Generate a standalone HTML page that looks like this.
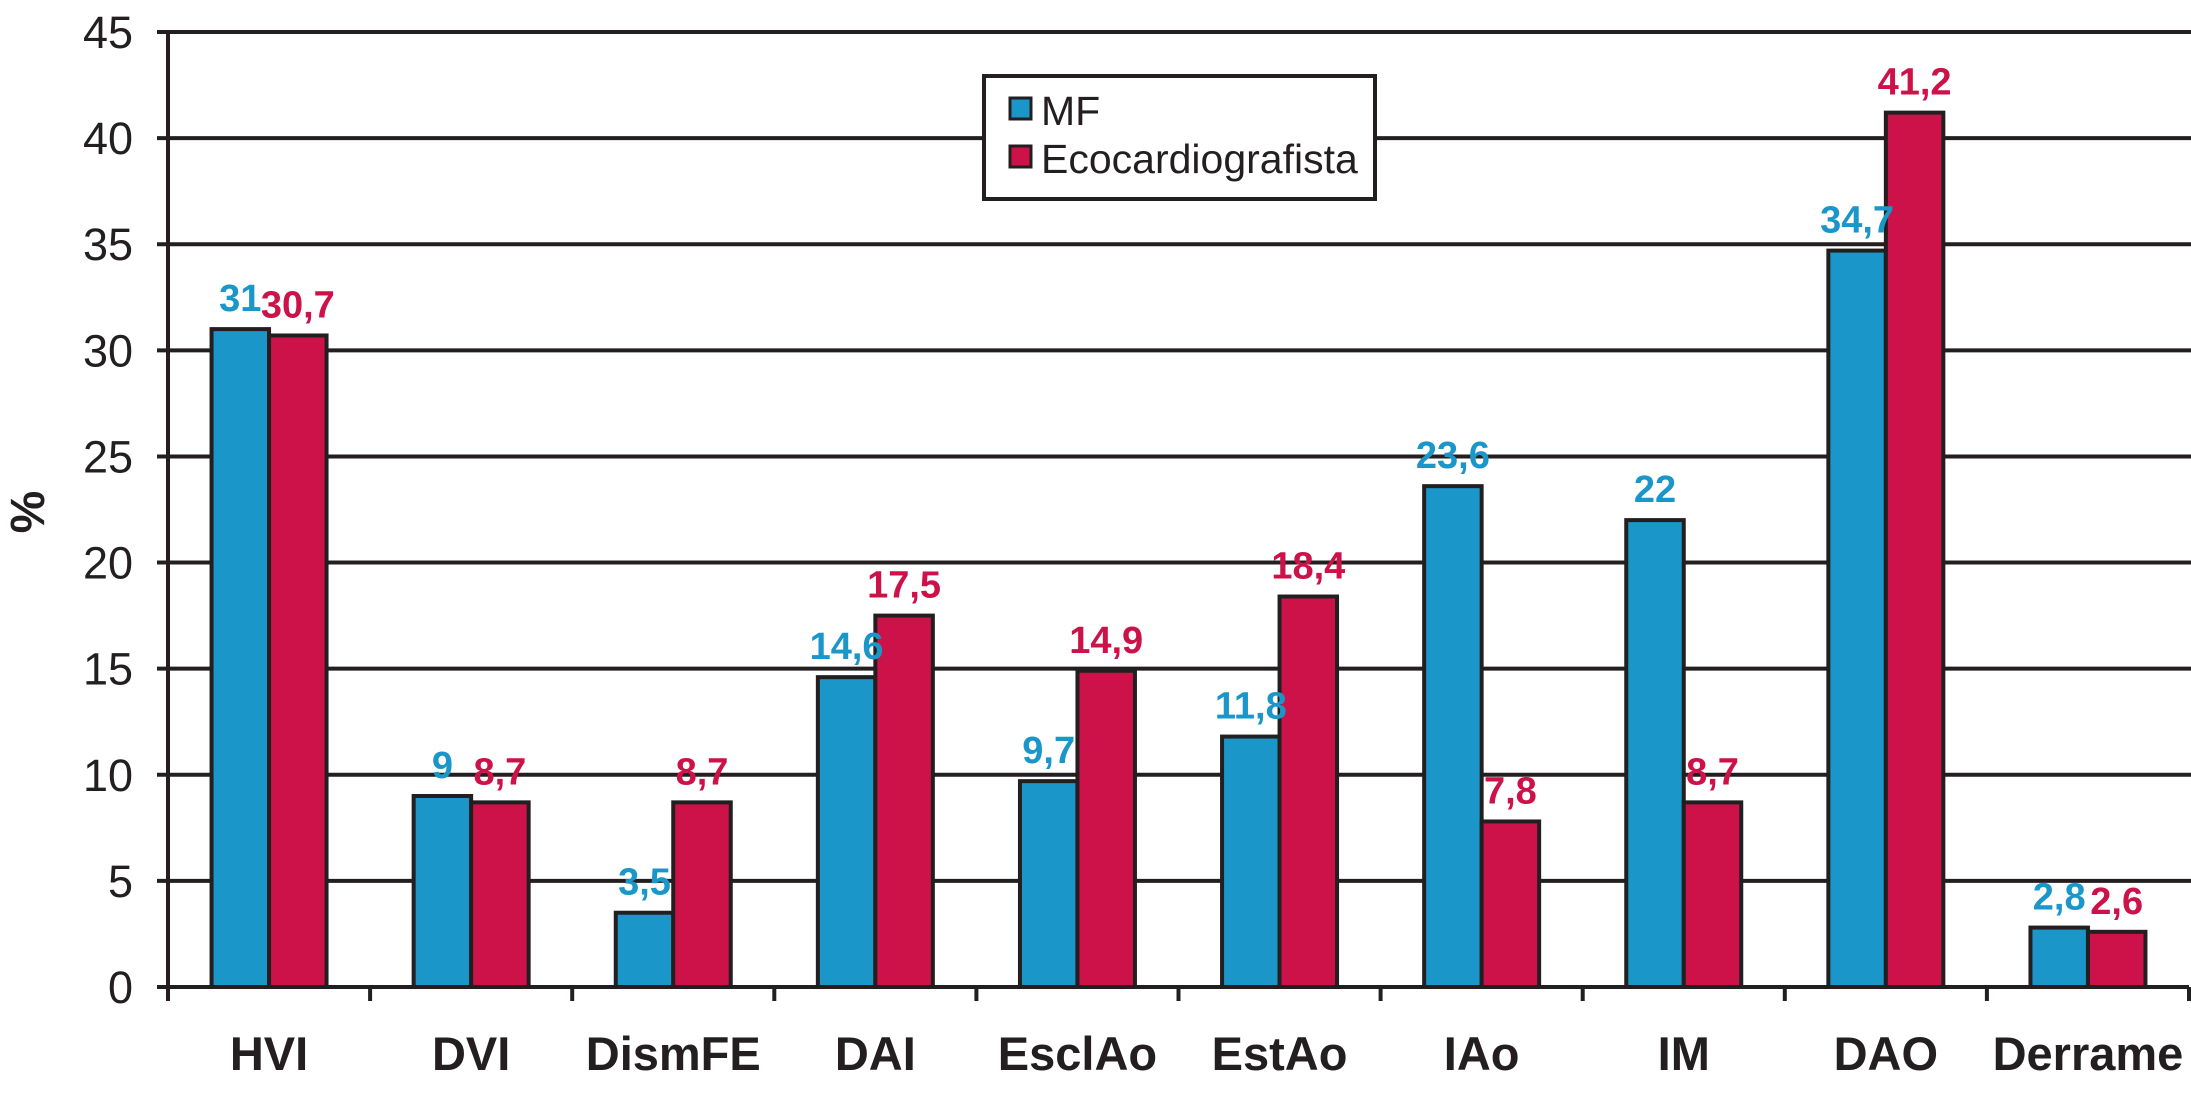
<!DOCTYPE html>
<html><head><meta charset="utf-8"><style>
html,body{margin:0;padding:0;background:#fff;}
svg{display:block;font-family:"Liberation Sans",Arial,sans-serif;}
</style></head><body>
<svg id="chart" width="2191" height="1093" viewBox="0 0 2191 1093" xmlns="http://www.w3.org/2000/svg">
<g id="grid"></g>
<g id="bars"></g>
<g id="labels"></g>
<text x="0" y="0" transform="translate(44,512) rotate(-90)" text-anchor="middle" font-size="48" font-weight="bold" fill="#231f20">%</text>
<g>
<rect x="984" y="76" width="391" height="123" fill="#fff" stroke="#231f20" stroke-width="4"/>
<rect x="1010" y="98" width="21" height="21" fill="#1a96c8" stroke="#231f20" stroke-width="3"/>
<text x="1041" y="125" font-size="41" fill="#231f20">MF</text>
<rect x="1010" y="146" width="21" height="21" fill="#cc1249" stroke="#231f20" stroke-width="3"/>
<text x="1041" y="173" font-size="41" fill="#231f20">Ecocardiografista</text>
</g>
</svg>
<script>
const categories = ["HVI","DVI","DismFE","DAI","EsclAo","EstAo","IAo","IM","DAO","Derrame"];
const mfValues = [31, 9, 3.5, 14.6, 9.7, 11.8, 23.6, 22, 34.7, 2.8];
const ecoValues = [30.7, 8.7, 8.7, 17.5, 14.9, 18.4, 7.8, 8.7, 41.2, 2.6];
const mfLabels = ["31","9","3,5","14,6","9,7","11,8","23,6","22","34,7","2,8"];
const ecoLabels = ["30,7","8,7","8,7","17,5","14,9","18,4","7,8","8,7","41,2","2,6"];
const yTicks = [0,5,10,15,20,25,30,35,40,45];

const NS = "http://www.w3.org/2000/svg";
const x0 = 168, x1 = 2189, y0 = 987, yTop = 32, yMax = 45;
const catW = (x1 - x0) / categories.length;
const barW = 57.5;
const y = v => y0 - (v / yMax) * (y0 - yTop);
const grid = document.getElementById('grid');
const bars = document.getElementById('bars');
const labels = document.getElementById('labels');
function mk(tag, attrs, parent) {
  const e = document.createElementNS(NS, tag);
  for (const k in attrs) e.setAttribute(k, attrs[k]);
  parent.appendChild(e);
  return e;
}
yTicks.forEach(t => {
  const yy = y(t);
  const l = mk('line', {x1: 157, x2: t === 0 ? x1 : 2191, y1: yy, y2: yy, stroke: '#231f20', 'stroke-width': 4}, grid);
  
  
  const tx = mk('text', {x: 133, y: yy + 16, 'text-anchor': 'end', 'font-size': 45, fill: '#231f20'}, labels);
  tx.textContent = t;
  
  
});
const ax = mk('line', {x1: x0, x2: x0, y1: yTop - 2, y2: y0 + 14, stroke: '#231f20', 'stroke-width': 4}, grid);


for (let i = 0; i <= categories.length; i++) {
  const xx = x0 + i * catW;
  const tk = mk('line', {x1: xx, x2: xx, y1: y0, y2: y0 + 14, stroke: '#231f20', 'stroke-width': 4}, grid);
  
  
}
categories.forEach((c, i) => {
  const cx = x0 + (i + 0.5) * catW;
  const series = [[mfValues[i], '#1a96c8', mfLabels[i], cx - barW, 'mf'], [ecoValues[i], '#cc1249', ecoLabels[i], cx, 'eco']];
  series.forEach(([v, col, lab, bx, s]) => {
    const r = mk('rect', {x: bx, y: y(v), width: barW, height: y0 - y(v), fill: col, stroke: '#231f20', 'stroke-width': 4}, bars);
    
    
    const t = mk('text', {x: bx + barW / 2, y: y(v) - 18, 'text-anchor': 'middle', 'font-size': 38, 'font-weight': 'bold', fill: col}, labels);
    t.textContent = lab;
    
    
  });
  const cl = mk('text', {x: cx, y: 1070, 'text-anchor': 'middle', 'font-size': 47, 'font-weight': 'bold', fill: '#231f20'}, labels);
  cl.textContent = c;
  
  
});
</script>
</body></html>
